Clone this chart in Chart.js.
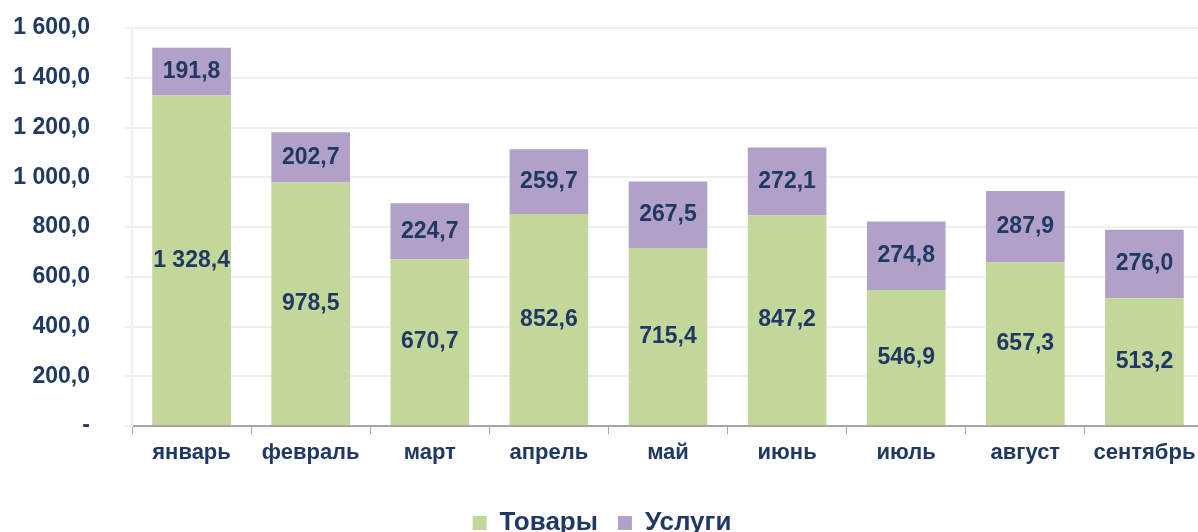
<!DOCTYPE html>
<html>
<head>
<meta charset="utf-8">
<script src="https://cdn.jsdelivr.net/npm/chart.js@4"></script>
<style>
  body { margin: 0; background: #fff; overflow: hidden; }
  canvas { display: block; }
</style>
</head>
<body>
<canvas id="myChart" width="1204" height="532"></canvas>
<script>
// months
const months = ['январь', 'февраль', 'март', 'апрель', 'май', 'июнь', 'июль', 'август', 'сентябрь'];
// values
const goods = [1328.4, 978.5, 670.7, 852.6, 715.4, 847.2, 546.9, 657.3, 513.2];
const services = [191.8, 202.7, 224.7, 259.7, 267.5, 272.1, 274.8, 287.9, 276.0];
const yTicks = [0, 200, 400, 600, 800, 1000, 1200, 1400, 1600];

const navy = '#1F3864';
const fontFam = '"Liberation Sans", Arial, sans-serif';

// 1 328,4 style
function fmt(v) {
  if (v === 0) return '-';
  let s = v.toFixed(1).replace('.', ',');
  let parts = s.split(',');
  parts[0] = parts[0].replace(/\B(?=(\d{3})+(?!\d))/g, ' ');
  return parts.join(',');
}

const labelPlugin = {
  id: 'barLabels',
  afterDatasetsDraw(chart) {
    const ctx = chart.ctx;
    ctx.save();
    ctx.font = 'bold 23px ' + fontFam;
    ctx.fillStyle = navy;
    ctx.textAlign = 'center';
    ctx.textBaseline = 'middle';
    chart.data.datasets.forEach((ds, i) => {
      const meta = chart.getDatasetMeta(i);
      meta.data.forEach((bar, j) => {
        const p = bar.getCenterPoint();
        ctx.fillText(fmt(ds.data[j]), p.x, p.y);
      });
    });
    ctx.restore();
  }
};

const ctx = document.getElementById('myChart').getContext('2d');
const myChart = new Chart(ctx, {
  type: 'bar',
  data: {
    labels: months,
    datasets: [
      { label: 'Товары', data: goods, backgroundColor: '#C4D79B', barPercentage: 0.66, categoryPercentage: 1 },
      { label: 'Услуги', data: services, backgroundColor: '#B1A0C7', barPercentage: 0.66, categoryPercentage: 1 }
    ]
  },
  options: {
    responsive: false,
    animation: false,
    layout: { padding: { top: 28, right: 0, left: 0, bottom: -14 } },
    plugins: {
      tooltip: { enabled: false },
      legend: {
        position: 'bottom',
        labels: {
          font: { size: 26, weight: 'bold', family: fontFam, lineHeight: 1 },
          color: navy,
          boxWidth: 14,
          boxHeight: 14,
          padding: 20,
          generateLabels(chart) {
            return chart.data.datasets.map((d, i) => ({
              text: d.label, fillStyle: d.backgroundColor, strokeStyle: d.backgroundColor,
              fontColor: navy, lineWidth: 0, datasetIndex: i
            }));
          }
        }
      }
    },
    scales: {
      x: {
        stacked: true,
        grid: { drawOnChartArea: false, drawTicks: true, tickLength: 8, color: '#A6A6A6', offset: true },
        border: { color: '#A6A6A6', width: 2 },
        ticks: { font: { size: 22, weight: 'bold', family: fontFam }, color: navy, padding: 6 },
        afterFit(scale) {
          scale.height = 64;
          scale.paddingLeft = 0;
          scale.paddingRight = 0;
        }
      },
      y: {
        stacked: true,
        min: 0,
        max: 1600,
        afterBuildTicks(scale) { scale.ticks = yTicks.map(v => ({ value: v })); },
        grid: { color: '#EFEFEF', lineWidth: 2, tickLength: 8 },
        border: { color: '#EFEFEF', width: 2 },
        ticks: {
          font: { size: 23, weight: 'bold', family: fontFam },
          color: navy,
          padding: 34,
          callback: v => fmt(v)
        },
        afterFit(scale) {
          scale.width = 132;
          scale.paddingTop = 0;
          scale.paddingBottom = 0;
        }
      }
    }
  },
  plugins: [labelPlugin]
});
</script>
</body>
</html>
